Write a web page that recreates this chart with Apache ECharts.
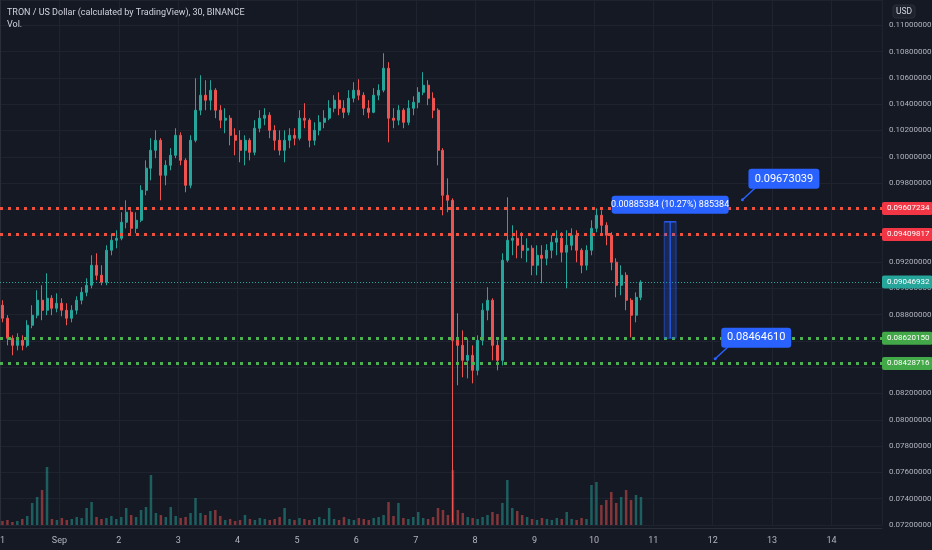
<!DOCTYPE html>
<html>
<head>
<meta charset="utf-8">
<title>TRXUSD 30</title>
<script src="https://cdn.jsdelivr.net/npm/echarts@6/dist/echarts.min.js"></script>
<style>
html, body { margin: 0; padding: 0; background: #151924; }
#main { width: 932px; height: 550px; }
</style>
</head>
<body>
<div id="main"></div>
<script>
// 2 hour candles, first one starts Aug 31 00:00
var opens = [
  0.08871, 0.08772, 0.08620, 0.08566, 0.08604, 0.08566, 0.08719, 0.08795, 0.08909, 0.08833,
  0.08924, 0.08848, 0.08886, 0.08833, 0.08772, 0.08833, 0.08909, 0.08969, 0.09023, 0.09175,
  0.09099, 0.09046, 0.09289, 0.09365, 0.09380, 0.09502, 0.09578, 0.09456, 0.09517, 0.09745,
  0.09913, 0.10049, 0.10125, 0.09859, 0.09935, 0.10011, 0.10163, 0.09973, 0.09783, 0.10125,
  0.10354, 0.10468, 0.10430, 0.10506, 0.10354, 0.10278, 0.10293, 0.10163, 0.10125, 0.10049,
  0.10125, 0.10034, 0.10217, 0.10293, 0.10316, 0.10201, 0.10125, 0.10049, 0.10125, 0.10163,
  0.10141, 0.10293, 0.10278, 0.10125, 0.10201, 0.10262, 0.10293, 0.10369, 0.10430, 0.10369,
  0.10338, 0.10445, 0.10506, 0.10468, 0.10369, 0.10338, 0.10468, 0.10506, 0.10673, 0.10293,
  0.10278, 0.10354, 0.10262, 0.10369, 0.10414, 0.10490, 0.10544, 0.10445, 0.10354, 0.10049,
  0.09707, 0.09669, 0.08604, 0.08566, 0.08452, 0.08490, 0.08376, 0.08604, 0.08833, 0.08909,
  0.08566, 0.08452, 0.09213, 0.09365, 0.09380, 0.09327, 0.09289, 0.09304, 0.09175, 0.09251,
  0.09228, 0.09289, 0.09350, 0.09380, 0.09274, 0.09327, 0.09403, 0.09289, 0.09175, 0.09289,
  0.09456, 0.09555, 0.09479, 0.09403, 0.09198, 0.09023, 0.09099, 0.08909, 0.08795, 0.08931
];
var closes = [
  0.08772, 0.08620, 0.08566, 0.08604, 0.08566, 0.08719, 0.08795, 0.08909, 0.08833, 0.08924,
  0.08848, 0.08886, 0.08833, 0.08772, 0.08833, 0.08909, 0.08969, 0.09023, 0.09175, 0.09099,
  0.09046, 0.09289, 0.09365, 0.09380, 0.09502, 0.09578, 0.09456, 0.09517, 0.09745, 0.09913,
  0.10049, 0.10125, 0.09859, 0.09935, 0.10011, 0.10163, 0.09973, 0.09783, 0.10125, 0.10354,
  0.10468, 0.10430, 0.10506, 0.10354, 0.10278, 0.10293, 0.10163, 0.10125, 0.10049, 0.10125,
  0.10034, 0.10217, 0.10293, 0.10316, 0.10201, 0.10125, 0.10049, 0.10125, 0.10163, 0.10141,
  0.10293, 0.10278, 0.10125, 0.10201, 0.10262, 0.10293, 0.10369, 0.10430, 0.10369, 0.10338,
  0.10445, 0.10506, 0.10468, 0.10369, 0.10338, 0.10468, 0.10506, 0.10673, 0.10293, 0.10278,
  0.10354, 0.10262, 0.10369, 0.10414, 0.10490, 0.10544, 0.10445, 0.10354, 0.10049, 0.09707,
  0.09669, 0.08604, 0.08566, 0.08452, 0.08490, 0.08376, 0.08604, 0.08833, 0.08909, 0.08566,
  0.08452, 0.09213, 0.09365, 0.09380, 0.09327, 0.09289, 0.09304, 0.09175, 0.09251, 0.09228,
  0.09289, 0.09350, 0.09380, 0.09274, 0.09327, 0.09403, 0.09289, 0.09175, 0.09289, 0.09456,
  0.09555, 0.09479, 0.09403, 0.09198, 0.09023, 0.09099, 0.08909, 0.08795, 0.08931, 0.09046932
];
var highs = [
  0.08909, 0.08795, 0.08642, 0.08658, 0.08642, 0.08757, 0.08871, 0.08985, 0.09023, 0.09114,
  0.08947, 0.08962, 0.08924, 0.08886, 0.08871, 0.08939, 0.09008, 0.09076, 0.09251, 0.09266,
  0.09175, 0.09327, 0.09418, 0.09441, 0.09578, 0.09669, 0.09593, 0.09578, 0.09783, 0.09973,
  0.10141, 0.10201, 0.10141, 0.09973, 0.10065, 0.10217, 0.10186, 0.09989, 0.10163, 0.10597,
  0.10620, 0.10582, 0.10582, 0.10521, 0.10392, 0.10369, 0.10316, 0.10217, 0.10201, 0.10163,
  0.10141, 0.10278, 0.10354, 0.10369, 0.10338, 0.10240, 0.10201, 0.10201, 0.10217, 0.10217,
  0.10354, 0.10407, 0.10293, 0.10262, 0.10316, 0.10354, 0.10430, 0.10468, 0.10490, 0.10430,
  0.10506, 0.10567, 0.10589, 0.10490, 0.10430, 0.10521, 0.10551, 0.10787, 0.10719, 0.10369,
  0.10392, 0.10369, 0.10430, 0.10460, 0.10529, 0.10643, 0.10582, 0.10490, 0.10369, 0.10065,
  0.09836, 0.09684, 0.08810, 0.08680, 0.08620, 0.08566, 0.08642, 0.08886, 0.09008, 0.08924,
  0.08604, 0.09266, 0.09692, 0.09479, 0.09441, 0.09426, 0.09380, 0.09327, 0.09327, 0.09327,
  0.09335, 0.09403, 0.09441, 0.09426, 0.09441, 0.09456, 0.09441, 0.09304, 0.09327, 0.09517,
  0.09608, 0.09593, 0.09502, 0.09426, 0.09228, 0.09175, 0.09122, 0.08924, 0.08969, 0.09061
];
var lows = [
  0.08741, 0.08566, 0.08490, 0.08528, 0.08528, 0.08551, 0.08696, 0.08772, 0.08757, 0.08795,
  0.08795, 0.08817, 0.08787, 0.08719, 0.08741, 0.08802, 0.08878, 0.08939, 0.09000, 0.09061,
  0.09023, 0.09023, 0.09251, 0.09304, 0.09365, 0.09456, 0.09403, 0.09418, 0.09502, 0.09707,
  0.09821, 0.09989, 0.09669, 0.09783, 0.09897, 0.09989, 0.09935, 0.09730, 0.09760, 0.10110,
  0.10316, 0.10354, 0.10354, 0.10293, 0.10217, 0.10179, 0.10087, 0.10011, 0.09958, 0.09935,
  0.09973, 0.10011, 0.10186, 0.10240, 0.10141, 0.10049, 0.10011, 0.09958, 0.10065, 0.10087,
  0.10125, 0.10217, 0.10072, 0.10087, 0.10163, 0.10217, 0.10278, 0.10338, 0.10316, 0.10293,
  0.10316, 0.10414, 0.10430, 0.10316, 0.10293, 0.10331, 0.10430, 0.10490, 0.10110, 0.10217,
  0.10240, 0.10217, 0.10240, 0.10316, 0.10369, 0.10468, 0.10392, 0.10293, 0.09935, 0.09555,
  0.09578, 0.07220, 0.08262, 0.08323, 0.08315, 0.08277, 0.08338, 0.08566, 0.08757, 0.08452,
  0.08376, 0.08414, 0.09198, 0.09251, 0.09228, 0.09228, 0.09198, 0.09099, 0.09099, 0.09038,
  0.09175, 0.09228, 0.09251, 0.09198, 0.09000, 0.09289, 0.09198, 0.09114, 0.09137, 0.09251,
  0.09426, 0.09403, 0.09327, 0.09137, 0.08931, 0.08947, 0.08833, 0.08627, 0.08741, 0.08909
];
// volume, arbitrary units (pane max = 100)
var volumes = [
  4, 5, 3, 4, 6, 9, 22, 28, 35, 58,
  6, 5, 7, 5, 6, 8, 7, 17, 23, 8,
  6, 7, 9, 6, 8, 17, 10, 8, 15, 18,
  50, 12, 10, 8, 18, 9, 7, 8, 12, 27,
  12, 10, 14, 15, 9, 5, 6, 4, 5, 10,
  6, 5, 7, 6, 5, 6, 8, 17, 6, 5,
  7, 6, 5, 6, 8, 6, 17, 6, 5, 8,
  6, 5, 7, 6, 5, 7, 8, 10, 23, 9,
  22, 7, 6, 8, 13, 7, 6, 8, 17, 15,
  10, 55, 15, 12, 8, 7, 6, 8, 10, 13,
  11, 22, 45, 17, 14, 10, 8, 6, 5, 7,
  6, 5, 7, 6, 13, 6, 5, 7, 6, 40,
  43, 20, 25, 33, 22, 28, 35, 25, 30, 28
];
var dayLabels = ['31', 'Sep', '2', '3', '4', '5', '6', '7', '8', '9', '10', '11', '12', '13', '14'];
var resistance = [0.09607234, 0.09409817];
var support = [0.08620150, 0.08428716];
var lastPrice = 0.09046932;

// drawn annotations: [hours since Aug 31 00:00, price]
var noteHigh = [300, 0.09673039];
var noteLow = [289, 0.08464610];
var measure = { from: 268.4, to: 273.2, low: 0.08620150, high: 0.09505534, text: '0.00885384 (10.27%) 885384' };

var upColor = '#26a69a', downColor = '#ef5350';
var hoursShown = 356.4;

var chart = echarts.init(document.getElementById('main'));

var candleData = opens.map(function (o, i) {
    return [2 * i + 1, o, closes[i], lows[i], highs[i]];
});
var volData = volumes.map(function (v, i) {
    return {
        value: [2 * i + 1, v],
        itemStyle: { color: closes[i] >= opens[i] ? 'rgba(38,166,154,0.5)' : 'rgba(239,83,80,0.5)' }
    };
});

function tag(bg) {
    return {
        show: true, position: 'end', distance: 0,
        formatter: function (p) { return Number(p.value).toFixed(8); },
        backgroundColor: bg, color: '#ffffff', fontSize: 8,
        padding: [3, 3, 2, 5], borderRadius: 2
    };
}
var levels = [];
resistance.forEach(function (v) {
    levels.push({ yAxis: v, lineStyle: { color: '#f0513f', width: 3, type: [3, 5] }, label: tag('#f23645') });
});
support.forEach(function (v) {
    levels.push({ yAxis: v, lineStyle: { color: '#4caf50', width: 3, type: [3, 5] }, label: tag('#43a847') });
});
levels.push({ yAxis: lastPrice, lineStyle: { color: upColor, width: 1, type: [1, 2] }, label: tag(upColor) });

var option = {
    backgroundColor: '#151924',
    animation: false,
    textStyle: { fontFamily: 'Roboto' },
    title: {
        text: 'TRON / US Dollar (calculated by TradingView), 30, BINANCE',
        subtext: 'Vol.',
        left: 2, top: 3, itemGap: 3,
        textStyle: { color: '#d1d4dc', fontSize: 9, fontWeight: 'normal' },
        subtextStyle: { color: '#d1d4dc', fontSize: 9 }
    },
    grid: [
        { left: 0, right: 50, top: 0, bottom: 25, outerBoundsMode: 'none', containLabel: false },
        { left: 0, right: 50, top: 425, bottom: 25, outerBoundsMode: 'none', containLabel: false }
    ],
    xAxis: [{
        type: 'value', gridIndex: 0, min: 0, max: hoursShown, interval: 24, offset: 3,
        axisLine: { show: true, lineStyle: { color: '#2a2e39' } },
        axisTick: { show: false },
        axisLabel: {
            color: '#b2b5be', fontSize: 9, margin: 8, showMaxLabel: false,
            formatter: function (v) { return dayLabels[Math.round(v / 24)] || ''; }
        },
        splitLine: { show: true, lineStyle: { color: '#1f2330' } }
    }, {
        type: 'value', gridIndex: 1, min: 0, max: hoursShown, show: false
    }],
    yAxis: [{
        type: 'value', gridIndex: 0, position: 'right', min: 0.072, max: 0.11192, interval: 0.002,
        axisLine: { show: true, lineStyle: { color: '#2a2e39' } },
        axisTick: { show: false },
        axisLabel: {
            color: '#b2b5be', fontSize: 8, margin: 7, showMaxLabel: false,
            formatter: function (v) { return v.toFixed(8); }
        },
        splitLine: { show: true, lineStyle: { color: '#1f2330' } }
    }, {
        type: 'value', gridIndex: 1, min: 0, max: 100, show: false
    }],
    series: [{
        type: 'bar', xAxisIndex: 1, yAxisIndex: 1,
        data: volData, barWidth: 2.5
    }, {
        type: 'candlestick', xAxisIndex: 0, yAxisIndex: 0,
        data: candleData, encode: { x: 0, y: [1, 2, 3, 4] },
        barWidth: 2.5,
        itemStyle: { color: upColor, color0: downColor, borderColor: upColor, borderColor0: downColor, borderWidth: 1 },
        markLine: { symbol: 'none', silent: true, animation: false, precision: 8, data: levels }
    }]
};
chart.setOption(option);

// annotations placed from data coordinates
function toPx(pt) {
    return chart.convertToPixel({ xAxisIndex: 0, yAxisIndex: 0 }, pt);
}
function callout(pt, w) {
    var a = toPx(pt);
    return [
        { type: 'line', shape: { x1: a[0], y1: a[1], x2: a[0] + 13, y2: a[1] - 12 }, style: { stroke: '#2962ff', lineWidth: 1.5 } },
        { type: 'circle', shape: { cx: a[0], cy: a[1], r: 1.5 }, style: { fill: '#2962ff' } },
        { type: 'rect', shape: { x: a[0] + 6, y: a[1] - 31, width: w, height: 20, r: 3 }, style: { fill: '#2962ff' } },
        { type: 'text', x: a[0] + 6 + w / 2, y: a[1] - 21,
          style: { text: pt[1].toFixed(8), fill: '#ffffff', font: '11px Roboto', align: 'center', verticalAlign: 'middle' } }
    ];
}
var mTop = toPx([measure.from, measure.high]);
var mBot = toPx([measure.to, measure.low]);
var midX = (mTop[0] + mBot[0]) / 2;
var gfx = [
    { type: 'rect', shape: { x: 893, y: 5, width: 22, height: 13, r: 3 }, style: { fill: '#1e222d', stroke: '#2a2e39' } },
    { type: 'text', x: 904, y: 11.5, style: { text: 'USD', fill: '#d1d4dc', font: '8.5px Roboto', align: 'center', verticalAlign: 'middle' } },
    { type: 'rect', shape: { x: mTop[0], y: mTop[1], width: mBot[0] - mTop[0], height: mBot[1] - mTop[1] },
      style: { fill: 'rgba(41,98,255,0.22)', stroke: 'rgba(41,98,255,0.55)', lineWidth: 1 } },
    { type: 'line', shape: { x1: midX, y1: mBot[1], x2: midX, y2: mTop[1] }, style: { stroke: '#2962ff', lineWidth: 1.2 } },
    { type: 'line', shape: { x1: mTop[0], y1: mTop[1], x2: mBot[0], y2: mTop[1] }, style: { stroke: '#2962ff', lineWidth: 1.2 } },
    { type: 'rect', shape: { x: midX - 58.5, y: mTop[1] - 26, width: 117, height: 18, r: 3 }, style: { fill: '#2962ff' } },
    { type: 'text', x: midX, y: mTop[1] - 17,
      style: { text: measure.text, fill: '#ffffff', font: '9px Roboto', align: 'center', verticalAlign: 'middle' } }
].concat(callout(noteHigh, 71), callout(noteLow, 70));
gfx.forEach(function (el) { el.z = 100; });

chart.setOption({ graphic: { elements: gfx } });
</script>
</body>
</html>
